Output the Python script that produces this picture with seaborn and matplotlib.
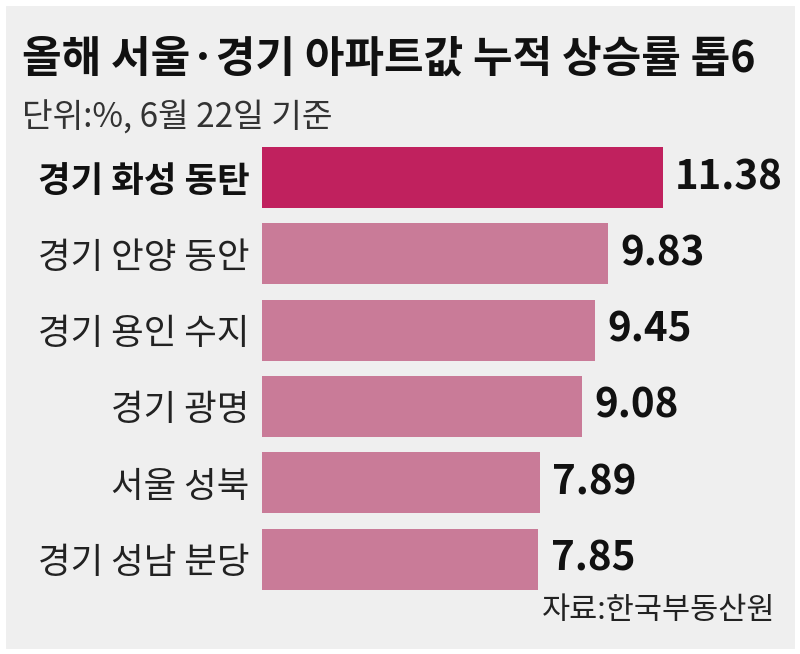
import matplotlib
matplotlib.use("Agg")
import matplotlib.pyplot as plt
import seaborn as sns
import pandas as pd
from matplotlib.patches import Rectangle

# data
regions = ["경기 화성 동탄", "경기 안양 동안", "경기 용인 수지", "경기 광명", "서울 성북", "경기 성남 분당"]
rates = [11.38, 9.83, 9.45, 9.08, 7.89, 7.85]
bar_colors = ["#c0215e", "#c97b98", "#c97b98", "#c97b98", "#c97b98", "#c97b98"]

title = "올해 서울·경기 아파트값 누적 상승률 톱6"
subtitle = "단위:%, 6월 22일 기준"
source = "자료:한국부동산원"

sns.set_style("white")
plt.rcParams["font.family"] = ["Noto Sans CJK KR", "DejaVu Sans"]

df = pd.DataFrame({"region": regions, "rate": rates})

fig = plt.figure(figsize=(8, 6.54), dpi=100, facecolor="#efefef")
ax = fig.add_axes([0.3275, 0.0868, 0.66, 0.700])
ax.set_facecolor("none")

sns.barplot(data=df, y="region", x="rate", hue="region", palette=bar_colors,
            orient="h", width=0.8, legend=False, saturation=1, linewidth=0, ax=ax)

ax.set_xlim(0, 15)
ax.set_ylim(5.5, -0.5)
ax.set_xlabel("")
ax.set_ylabel("")
ax.set_xticks([])
sns.despine(ax=ax, left=True, bottom=True)
ax.tick_params(axis="y", length=0, pad=9, labelsize=25.5, labelcolor="#222222")
ax.get_yticklabels()[0].set_fontweight("bold")
ax.get_yticklabels()[0].set_color("#111111")

for cont in ax.containers:
    ax.bar_label(cont, fmt="%.2f", padding=9, fontsize=29, fontweight="bold", color="#111111")

fig.text(0.0275, 0.911, title, fontsize=31, fontweight="bold", color="#111111", va="center", ha="left")
fig.text(0.0275, 0.82, subtitle, fontsize=24, color="#333333", va="center", ha="left")
fig.text(0.969, 0.067, source, fontsize=22, color="#222222", va="center", ha="right")

# white frame around the gray panel
fig.patches.append(Rectangle((0, 0), 1, 1, transform=fig.transFigure, fill=False,
                             edgecolor="white", linewidth=8, zorder=10))

fig.savefig("out.png", dpi=100, facecolor=fig.get_facecolor())
